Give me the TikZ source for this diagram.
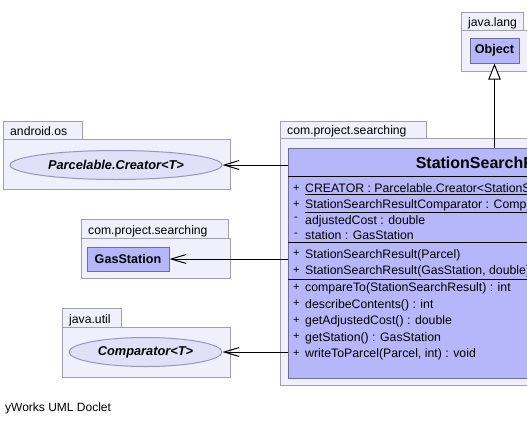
\documentclass[tikz,border=0pt]{standalone}
\usepackage{fontspec}
\setmainfont{Liberation Sans}
\usetikzlibrary{arrows.meta,shapes.geometric}
\definecolor{pkgfill}{RGB}{240,240,252}
\definecolor{pkgborder}{RGB}{160,160,176}
\definecolor{classfill}{RGB}{182,182,250}
\definecolor{classborder}{RGB}{110,110,150}
\definecolor{ellfill}{RGB}{224,224,248}
\definecolor{ellborder}{RGB}{150,150,190}
\begin{document}
\begin{tikzpicture}[x=1pt,y=-1pt,
  pkg/.style={draw=pkgborder,fill=pkgfill,line width=1pt,anchor=north west,inner sep=0pt},
  pkglabel/.style={anchor=base west,inner sep=0pt,font=\fontsize{12.2}{14}\selectfont},
  classbox/.style={draw=classborder,fill=classfill,line width=1pt,anchor=north west,inner sep=0pt},
  smallclass/.style={draw=classborder,fill=classfill,line width=1pt,inner sep=0pt,font=\bfseries\fontsize{12.6}{14}\selectfont},
  iface/.style={ellipse,draw=ellborder,fill=ellfill,line width=1pt,inner sep=0pt,font=\bfseries\itshape\fontsize{12.8}{14}\selectfont},
  member/.style={anchor=base west,inner sep=0pt,font=\fontsize{12.3}{14}\selectfont},
  vis/.style={anchor=base west,inner sep=0pt,font=\fontsize{11}{13}\selectfont},
  sepline/.style={draw=black,line width=1pt},
  assoc/.style={draw=black,line width=1pt,-{Straight Barb[length=15pt,width=9pt,line width=1pt]}},
  inh/.style={draw=black,line width=1pt,-{Triangle[open,length=16pt,width=12.4pt,line width=1pt,fill=white]}}
]
\useasboundingbox (0,0) rectangle (527,423);
\clip (0,0) rectangle (527,423);

% java.lang
\node[pkg,minimum width=62,minimum height=18] (jltab) at (461,12) {};
\node[pkg,minimum width=80,minimum height=41] (jlbody) at (461,30) {};
\node[pkglabel] (jllab) at (468,26) {java.lang};
\node[smallclass,minimum width=49,minimum height=25] (obj) at (494.5,50.5) {Object};

% com.project.searching (main)
\node[pkg,minimum width=146,minimum height=17] (mptab) at (280,121) {};
\node[pkg,minimum width=270,minimum height=247] (mpbody) at (280,138) {};
\node[pkglabel] (mplab) at (287,134) {com.project.searching};

% android.os
\node[pkg,minimum width=79,minimum height=18] (aotab) at (3,121) {};
\node[pkg,minimum width=227,minimum height=50] (aobody) at (3,139) {};
\node[pkglabel] (aolab) at (10,135) {android.os};
\node[iface,minimum width=212,minimum height=29] (parc) at (116,165) {Parcelable.Creator<T>};

% com.project.searching (GasStation)
\node[pkg,minimum width=147,minimum height=19] (gptab) at (81,219) {};
\node[pkg,minimum width=149,minimum height=40] (gpbody) at (81,238) {};
\node[pkglabel] (gplab) at (88,234) {com.project.searching};
\node[smallclass,minimum width=82,minimum height=24] (gas) at (128,259) {GasStation};

% java.util
\node[pkg,minimum width=59,minimum height=19] (jutab) at (62,308) {};
\node[pkg,minimum width=168,minimum height=50] (jubody) at (62,327) {};
\node[pkglabel] (julab) at (69,323) {java.util};
\node[iface,minimum width=153,minimum height=29] (comp) at (145.5,352) {Comparator<T>};

% main class
\node[classbox,minimum width=412,minimum height=230] (ssr) at (288,148) {};
\node[anchor=base,inner sep=0pt,font=\bfseries\fontsize{16}{18}\selectfont] (ssrname) at (494,168) {StationSearchResult};
\draw[sepline] (288,176.5) -- (700,176.5);
\draw[sepline] (288,242.5) -- (700,242.5);
\draw[sepline] (288,279) -- (700,279);

\node[vis] at (293,191) {+};
\node[member] (m1) at (305,192.5) {\underline{CREATOR : Parcelable.Creator<StationSearchResult>}};
\node[vis] at (293,207.5) {+};
\node[member] (m2) at (305,208.7) {\underline{StationSearchResultComparator : Comparator<StationSearchResult>}};
\node[vis] at (294,220.5) {-};
\node[member] (m3) at (305,224.3) {adjustedCost : double};
\node[vis] at (294,236) {-};
\node[member] (m4) at (305,239.8) {station : GasStation};
\node[vis] at (293,256.5) {+};
\node[member] (m5) at (305,258) {StationSearchResult(Parcel)};
\node[vis] at (293,273) {+};
\node[member] (m6) at (305,274.6) {StationSearchResult(GasStation, double)};
\node[vis] at (293,290) {+};
\node[member] (m7) at (305,291.4) {compareTo(StationSearchResult) : int};
\node[vis] at (293,306.5) {+};
\node[member] (m8) at (305,308) {describeContents() : int};
\node[vis] at (293,323) {+};
\node[member] (m9) at (305,324.6) {getAdjustedCost() : double};
\node[vis] at (293,339.5) {+};
\node[member] (m10) at (305,341.2) {getStation() : GasStation};
\node[vis] at (293,356) {+};
\node[member] (m11) at (305,357.8) {writeToParcel(Parcel, int) : void};

% connectors
\draw[inh] (ssr.north) -- (ssr.north |- obj.south);
\draw[assoc] (ssr.west |- parc.east) -- (parc.east);
\draw[assoc] (ssr.west |- gas.east) -- (gas.east);
\draw[assoc] (ssr.west |- comp.east) -- (comp.east);

\node[anchor=base west,inner sep=0pt,font=\fontsize{12}{14}\selectfont] (credit) at (5,411) {yWorks UML Doclet};
\end{tikzpicture}
\end{document}
